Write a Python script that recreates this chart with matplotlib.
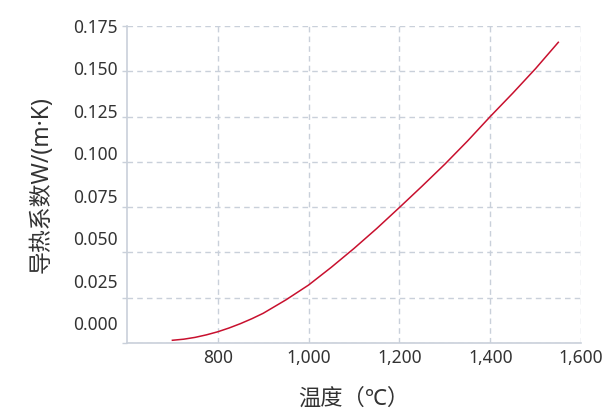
#!/usr/bin/env python3

import matplotlib
matplotlib.use("Agg")
import matplotlib.pyplot as plt
from matplotlib.ticker import FuncFormatter
from matplotlib.transforms import ScaledTranslation

plt.rcParams["font.family"] = ["Noto Sans", "Noto Sans CJK SC", "DejaVu Sans"]

# temperature (degC) and thermal conductivity W/(m.K)
temp = [700, 725, 750, 775, 800, 825, 850, 875, 900, 950, 1000, 1050, 1100, 1150,
        1200, 1250, 1300, 1350, 1400, 1450, 1500, 1550]
conductivity = [0.0015, 0.0021, 0.0031, 0.0045, 0.0062, 0.0083, 0.0107, 0.0134, 0.0164,
                0.0238, 0.0320, 0.0418, 0.0522, 0.0632, 0.0748, 0.0866, 0.0987, 0.1115,
                0.1250, 0.1380, 0.1515, 0.1660]

x_ticks = [800, 1000, 1200, 1400, 1600]
y_ticks = [0.000, 0.025, 0.050, 0.075, 0.100, 0.125, 0.150, 0.175]

axis_col = "#c9d0da"
text_col = "#333333"

fig = plt.figure(figsize=(6.1, 4.12), dpi=100)
ax = fig.add_axes([0.2082, 0.1675, 0.7443, 0.7694])

ax.plot(temp, conductivity, color="#c8102e", linewidth=1.1)

ax.set_xlim(600, 1600)
ax.set_ylim(0, 0.175)
ax.set_xticks(x_ticks)
ax.set_yticks(y_ticks)
ax.xaxis.set_major_formatter(FuncFormatter(lambda v, p: f"{v:,.0f}"))
ax.yaxis.set_major_formatter(FuncFormatter(lambda v, p: f"{v:.3f}"))

ax.grid(True, color=axis_col, linestyle=(0, (4, 3)), linewidth=1.0)
for s in ["top", "right"]:
    ax.spines[s].set_visible(False)
for s in ["left", "bottom"]:
    ax.spines[s].set_color(axis_col)
    ax.spines[s].set_linewidth(1.2)

ax.tick_params(axis="x", length=0, pad=4, labelsize=12.5, labelcolor=text_col)
ax.tick_params(axis="y", length=3.6, width=1.0, color=axis_col, pad=3,
               labelsize=12.5, labelcolor=text_col)

# the reference's y labels drift upward relative to their grid lines
for v, lab in zip(y_ticks, ax.get_yticklabels()):
    dy = (0.175 - v) / 0.175 * 20 / 100
    lab.set_transform(lab.get_transform() + ScaledTranslation(0, dy, fig.dpi_scale_trans))

ax.set_xlabel("温度（℃）", fontsize=16, color=text_col, labelpad=16)
ax.set_ylabel("导热系数W/(m·K)", fontsize=16.5, color=text_col, labelpad=14)

fig.savefig("out.png", dpi=100)
